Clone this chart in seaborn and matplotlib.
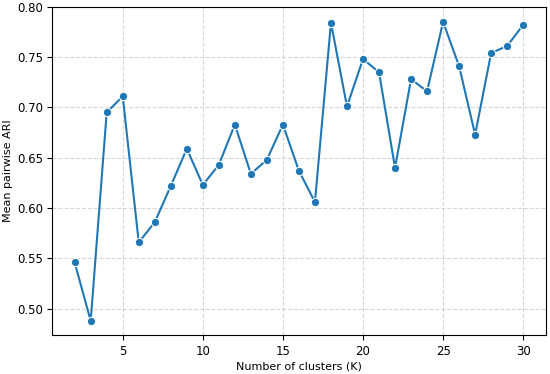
import numpy as np
import pandas as pd
import seaborn as sns
import matplotlib
matplotlib.use("Agg")
import matplotlib.pyplot as plt

# 数据
k_values = list(range(2, 31))
mean_ari = [0.546, 0.488, 0.695, 0.711, 0.566, 0.586, 0.622, 0.659, 0.623, 0.643,
            0.683, 0.634, 0.648, 0.683, 0.637, 0.606, 0.784, 0.701, 0.748, 0.735,
            0.640, 0.728, 0.716, 0.785, 0.741, 0.673, 0.754, 0.761, 0.782]

df = pd.DataFrame({"K": k_values, "ARI": mean_ari})

plt.rcParams["font.family"] = ["DejaVu Sans"]
fig, ax = plt.subplots(figsize=(5.5, 3.74), dpi=100)
sns.lineplot(data=df, x="K", y="ARI", marker="o", color="#1f77b4",
             markersize=6, linewidth=1.5, ax=ax)
ax.set_ylim(0.4735, 0.80)
ax.set_xlim(0.6, 31.4)
ax.grid(True, linestyle="--", alpha=0.5)
ax.set_xlabel("Number of clusters (K)", fontsize=8, labelpad=3)
ax.set_ylabel("Mean pairwise ARI", fontsize=8, labelpad=3)
ax.tick_params(labelsize=8.5, length=3.5, pad=3)
fig.subplots_adjust(left=0.095, right=0.992, top=0.982, bottom=0.103)
fig.savefig("out.png", dpi=100)
